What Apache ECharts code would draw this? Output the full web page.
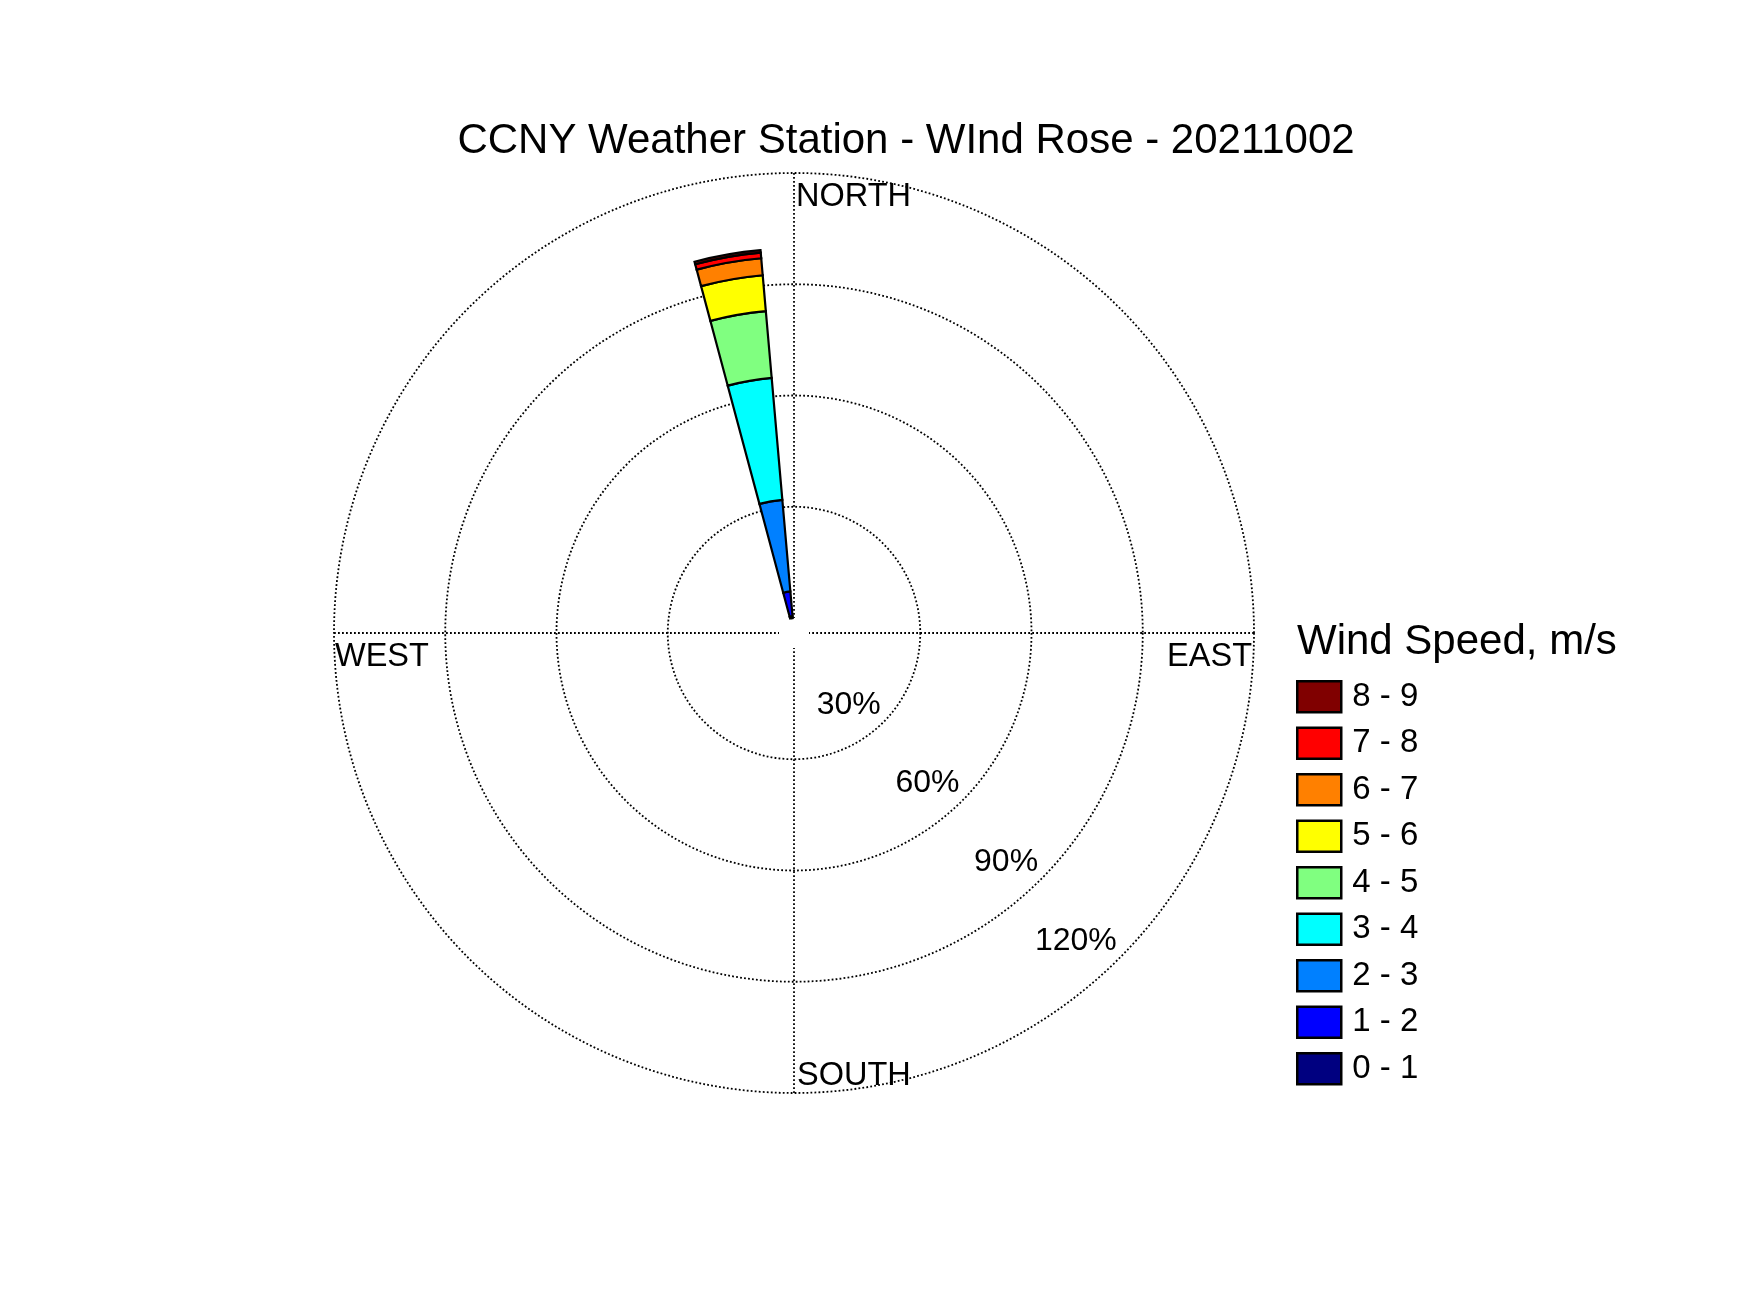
<!DOCTYPE html>
<html><head><meta charset="utf-8">
<script src="https://cdn.jsdelivr.net/npm/echarts@6/dist/echarts.min.js"></script>
<style>html,body{margin:0;padding:0;background:#fff}#c{width:1750px;height:1313px}</style>
</head><body><div id="c"></div>
<script>
// ---- data ----
const directions = [0,10,20,30,40,50,60,70,80,90,100,110,120,130,140,150,160,170,
                    180,190,200,210,220,230,240,250,260,270,280,290,300,310,320,330,340,350];
const windDirection = 350;
const speedBins = ['0 - 1','1 - 2','2 - 3','3 - 4','4 - 5','5 - 6','6 - 7','7 - 8','8 - 9'];
const binPercent = [0.5, 6.7, 24.8, 33.0, 18.1, 9.7, 4.6, 1.5, 0.7];
const binColors = ['#000080','#0000FF','#0080FF','#00FFFF','#80FF80','#FFFF00','#FF8000','#FF0000','#800000'];
const radiusTicks = [30, 60, 90, 120];
const radiusLabels = ['30%','60%','90%','120%'];
const compassBearings = [0, 90, 180, 270];
const compassLabels = ['NORTH','EAST','SOUTH','WEST'];
const titleText = 'CCNY Weather Station - WInd Rose - 20211002';
const legendTitle = 'Wind Speed, m/s';

// ---- chart ----
const FONT = '"Liberation Sans", Arial, Helvetica, sans-serif';
const center = [794, 633];
const radius = [15, 460];
const dotted = {color:'#000', width:1.8, type:[1.8, 2.2]};
const chart = echarts.init(document.getElementById('c'), null, {renderer:'canvas'});
const option = {
  backgroundColor:'#fff',
  animation:false,
  title:[
    {text:titleText, left:906, top:120, textAlign:'center', padding:0,
     textStyle:{fontFamily:FONT, fontSize:42, fontWeight:'normal', color:'#000'}},
    {text:legendTitle, left:1297, top:621, padding:0,
     textStyle:{fontFamily:FONT, fontSize:42, fontWeight:'normal', color:'#000'}}
  ],
  polar:[{center:center, radius:radius},{center:center, radius:radius}],
  angleAxis:[
    {polarIndex:0, type:'value', min:0, max:360, interval:90, startAngle:90, clockwise:true,
     axisLine:{show:false}, axisTick:{show:false}, axisLabel:{show:false},
     splitLine:{show:true, lineStyle:dotted}},
    {polarIndex:1, type:'category', data:directions.map(String), startAngle:95, clockwise:true,
     boundaryGap:true, axisLine:{show:false}, axisTick:{show:false}, axisLabel:{show:false},
     splitLine:{show:false}}
  ],
  radiusAxis:[
    {polarIndex:0, type:'value', min:0, max:120, interval:30,
     axisLine:{show:false}, axisTick:{show:false}, axisLabel:{show:false},
     splitLine:{show:true, lineStyle:Object.assign({}, dotted, {color:['rgba(0,0,0,0)','#000','#000','#000','#000']})}},
    {polarIndex:1, type:'value', min:0, max:120,
     axisLine:{show:false}, axisTick:{show:false}, axisLabel:{show:false}, splitLine:{show:false}}
  ],
  legend:{
    orient:'vertical', left:1296, top:680, padding:0, itemWidth:44, itemHeight:31, itemGap:13,
    icon:'rect', selectedMode:false, data:speedBins.slice().reverse(),
    itemStyle:{borderColor:'#000', borderWidth:2.5},
    textStyle:{fontFamily:FONT, fontSize:33, color:'#000', padding:[0,0,0,6]}
  },
  series:speedBins.map((name,i)=>({
    type:'bar', name:name, coordinateSystem:'polar', polarIndex:1, stack:'wind',
    barCategoryGap:'0%', silent:true,
    itemStyle:{color:binColors[i], borderColor:'#000', borderWidth:2.2},
    data:directions.map(d => d === windDirection ? binPercent[i] : null)
  }))
};
chart.setOption(option);

function toPx(r, bearing){
  let p = null;
  try { p = chart.convertToPixel({polarIndex:0}, [r, bearing]); } catch(e) { p = null; }
  if (!p || isNaN(p[0])) {
    const rr = radius[0] + (r/120)*(radius[1]-radius[0]);
    const a = bearing*Math.PI/180;
    p = [center[0] + rr*Math.sin(a), center[1] - rr*Math.cos(a)];
  }
  return p;
}
const graphics = [];
const compassOffsets = {NORTH:[2,8,'left'], EAST:[-2,8,'right'], SOUTH:[3,-33,'left'], WEST:[1,8,'left']};
compassLabels.forEach((lab,i)=>{
  const p = toPx(120, compassBearings[i]);
  const o = compassOffsets[lab];
  graphics.push({type:'text', x:p[0]+o[0], y:p[1]+o[1], z:10,
    style:{text:lab, fill:'#000', font:'32.5px ' + FONT, align:o[2], verticalAlign:'top', textAlign:o[2], textVerticalAlign:'top'}});
});
radiusTicks.forEach((t,i)=>{
  const p = toPx(t, 135);
  graphics.push({type:'text', x:p[0]-2.5, y:p[1]-33.4, z:10,
    style:{text:radiusLabels[i], fill:'#000', font:'32px ' + FONT, align:'right', verticalAlign:'top', textAlign:'right', textVerticalAlign:'top'}});
});
chart.setOption({graphic:graphics});
</script></body></html>
